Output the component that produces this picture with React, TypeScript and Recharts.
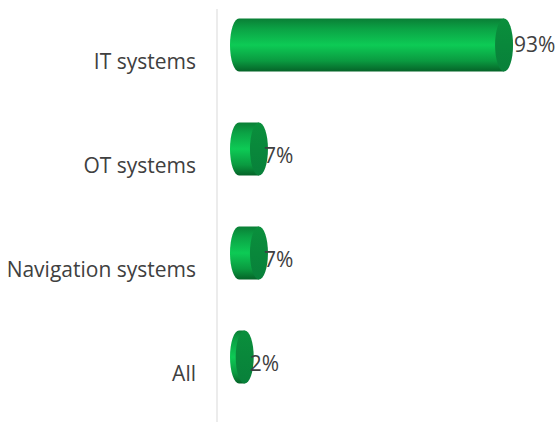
import { BarChart, Bar, XAxis, YAxis, LabelList } from 'recharts';

const categories = ['IT systems', 'OT systems', 'Navigation systems', 'All'];
const shares = [93, 7, 7, 2];

const data = categories.map((name, i) => ({ name, share: shares[i] }));

const FONT = '"Open Sans", sans-serif';
const CAP_RX = 9;
// the 3D bars sit above their band in the original
const BAR_LIFT = 16.5;

function Cylinder({ x, y, width, height }: any) {
  const top = y - BAR_LIFT;
  const bottom = top + height;
  const end = x + width;
  const cy = top + height / 2;
  const ry = height / 2;
  const body = `M${x},${top} L${end},${top} L${end},${bottom} L${x},${bottom} A${CAP_RX},${ry} 0 0 1 ${x},${top} Z`;
  return (
    <g>
      <path d={body} fill="url(#cylinderBody)" />
      <ellipse cx={end} cy={cy} rx={CAP_RX} ry={ry} fill="url(#cylinderCap)" />
    </g>
  );
}

function ShareLabel({ x, y, width, height, value, index }: any) {
  const dy = index === 0 ? -1 : 6;
  const dx = index === 0 ? 10 : 5;
  return (
    <text
      x={x + width + dx}
      y={y - BAR_LIFT + height / 2 + dy}
      dominantBaseline="central"
      fontFamily={FONT}
      fontSize={21}
      fill="#404040"
    >
      {value}%
    </text>
  );
}

export default function App() {
  return (
    <div style={{ position: 'absolute', left: 0, top: 0, width: 558, height: 422, overflow: 'hidden', background: '#fff' }}>
      <BarChart
        width={558}
        height={425}
        data={data}
        layout="vertical"
        margin={{ top: 9, right: 8, bottom: 0, left: 0 }}
      >
        <defs>
          <linearGradient id="cylinderBody" x1="0" y1="0" x2="0" y2="1">
            <stop offset="0%" stopColor="#0a7f36" />
            <stop offset="20%" stopColor="#0ba345" />
            <stop offset="50%" stopColor="#0dcb55" />
            <stop offset="80%" stopColor="#0a9a40" />
            <stop offset="100%" stopColor="#056328" />
          </linearGradient>
          <linearGradient id="cylinderCap" x1="0" y1="0" x2="0" y2="1">
            <stop offset="0%" stopColor="#0a8f3c" />
            <stop offset="100%" stopColor="#08803a" />
          </linearGradient>
        </defs>
        <XAxis type="number" hide domain={[-7.72, 109.12]} />
        <YAxis
          type="category"
          dataKey="name"
          width={217}
          interval={0}
          tickLine={false}
          tickMargin={21}
          tickSize={0}
          axisLine={{ stroke: '#d9d9d9', strokeWidth: 1 }}
          tick={{ fill: '#404040', fontSize: 21, fontFamily: FONT, dy: 1 }}
        />
        <Bar dataKey="share" barSize={53} shape={<Cylinder />} isAnimationActive={false}>
          <LabelList dataKey="share" content={<ShareLabel />} />
        </Bar>
      </BarChart>
    </div>
  );
}
